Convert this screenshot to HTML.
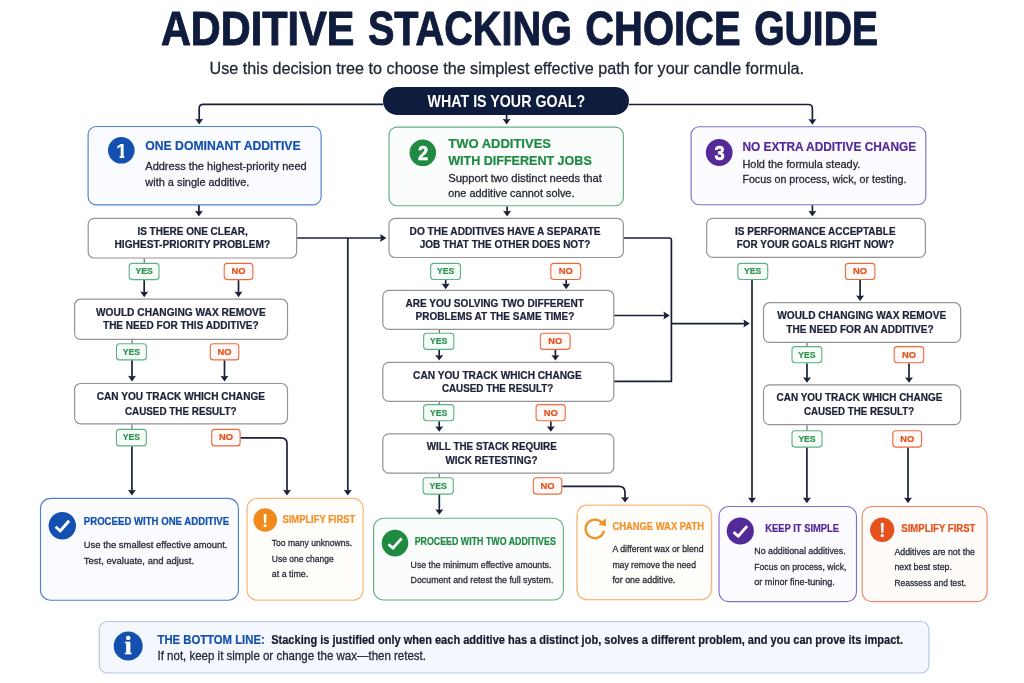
<!DOCTYPE html>
<html lang="en">
<head>
<meta charset="utf-8">
<title>Additive Stacking Choice Guide</title>
<style>
html,body{margin:0;padding:0;background:#fff;}
body{width:1024px;height:683px;overflow:hidden;}
svg{display:block;}
svg text{font-family:"Liberation Sans",Arial,Helvetica,sans-serif;}
svg{will-change:transform;}
</style>
</head>
<body>
<svg width="1024" height="683" viewBox="0 0 1024 683">
<rect width="1024" height="683" fill="#ffffff"/>
<g stroke="#101c3e" stroke-width="1.0" stroke-linejoin="round">
<text x="160.9" y="45.0" font-size="48.8" font-weight="700" fill="#101c3e" textLength="193.6" lengthAdjust="spacingAndGlyphs">ADDITIVE</text>
<text x="367.9" y="45.0" font-size="48.8" font-weight="700" fill="#101c3e" textLength="204.0" lengthAdjust="spacingAndGlyphs">STACKING</text>
<text x="585.2" y="45.0" font-size="48.8" font-weight="700" fill="#101c3e" textLength="155.4" lengthAdjust="spacingAndGlyphs">CHOICE</text>
<text x="754.2" y="45.0" font-size="48.8" font-weight="700" fill="#101c3e" textLength="123.9" lengthAdjust="spacingAndGlyphs">GUIDE</text>
</g>
<text x="209.6" y="74.0" font-size="17" font-weight="400" fill="#1e2433" stroke="#1e2433" stroke-width="0.28" textLength="594.4" lengthAdjust="spacingAndGlyphs">Use this decision tree to choose the simplest effective path for your candle formula.</text>
<path d="M383 104.3H203.2Q199.2 104.3 199.2 108.3V120" fill="none" stroke="#1b2039" stroke-width="1.7" stroke-linejoin="round"/>
<path d="M195.2 118.8L199.2 119.5L203.2 118.8L199.2 124.4Z" fill="#1b2039"/>
<path d="M629 104.5H808.4Q812.4 104.5 812.4 108.5V120" fill="none" stroke="#1b2039" stroke-width="1.7" stroke-linejoin="round"/>
<path d="M808.4 119.1L812.4 119.8L816.4 119.1L812.4 124.7Z" fill="#1b2039"/>
<path d="M506.6 114V120" fill="none" stroke="#1b2039" stroke-width="1.7" stroke-linejoin="round"/>
<path d="M502.6 118.8L506.6 119.5L510.6 118.8L506.6 124.4Z" fill="#1b2039"/>
<rect x="383" y="87" width="246" height="27.9" rx="13.95" fill="#101c3e"/>
<text x="427.6" y="107.2" font-size="16.6" font-weight="700" fill="#ffffff" textLength="157.6" lengthAdjust="spacingAndGlyphs">WHAT IS YOUR GOAL?</text>
<rect x="88.1" y="126.5" width="233.0" height="78.3" rx="8" fill="#f9fbff" stroke="#4f7fce" stroke-width="1.15"/>
<circle cx="121.3" cy="150.3" r="13.3" fill="#1450b0"/>
<clipPath id="c1"><rect x="108" y="138" width="28" height="17.2"/><rect x="119.6" y="155" width="4.6" height="4"/></clipPath>
<text x="116.0" y="157.5" font-size="20.4" font-weight="700" fill="#fff" clip-path="url(#c1)">1</text>
<text x="145.3" y="150.4" font-size="13.7" font-weight="700" fill="#1450b0" stroke="#1450b0" stroke-width="0.22" textLength="155.3" lengthAdjust="spacingAndGlyphs">ONE DOMINANT ADDITIVE</text>
<text x="145.3" y="170.1" font-size="10.4" font-weight="400" fill="#272a35" stroke="#272a35" stroke-width="0.28" textLength="161.4" lengthAdjust="spacingAndGlyphs">Address the highest-priority need</text>
<text x="145.3" y="185.7" font-size="10.4" font-weight="400" fill="#272a35" stroke="#272a35" stroke-width="0.28" textLength="104.0" lengthAdjust="spacingAndGlyphs">with a single additive.</text>
<rect x="389.0" y="127.1" width="234.4" height="78.7" rx="8" fill="#fafdfb" stroke="#62ae82" stroke-width="1.15"/>
<circle cx="422.8" cy="152.8" r="13.3" fill="#1f8a42"/>
<text x="417.9" y="160.0" font-size="20" font-weight="700" fill="#fff" stroke="#fff" stroke-width="0.5" textLength="10.2" lengthAdjust="spacingAndGlyphs">2</text>
<text x="448.2" y="147.9" font-size="13.7" font-weight="700" fill="#1f8a42" stroke="#1f8a42" stroke-width="0.22" textLength="102.8" lengthAdjust="spacingAndGlyphs">TWO ADDITIVES</text>
<text x="448.2" y="164.8" font-size="13.7" font-weight="700" fill="#1f8a42" stroke="#1f8a42" stroke-width="0.22" textLength="143.6" lengthAdjust="spacingAndGlyphs">WITH DIFFERENT JOBS</text>
<text x="448.2" y="181.8" font-size="10.4" font-weight="400" fill="#272a35" stroke="#272a35" stroke-width="0.28" textLength="153.8" lengthAdjust="spacingAndGlyphs">Support two distinct needs that</text>
<text x="448.2" y="197.2" font-size="10.4" font-weight="400" fill="#272a35" stroke="#272a35" stroke-width="0.28" textLength="126.3" lengthAdjust="spacingAndGlyphs">one additive cannot solve.</text>
<rect x="691.1" y="126.7" width="234.7" height="78.1" rx="8" fill="#fcfbff" stroke="#7f6fc8" stroke-width="1.15"/>
<circle cx="719.2" cy="152.5" r="13.4" fill="#542a99"/>
<text x="714.5" y="159.7" font-size="20" font-weight="700" fill="#fff" stroke="#fff" stroke-width="0.5" textLength="10.2" lengthAdjust="spacingAndGlyphs">3</text>
<text x="742.4" y="150.6" font-size="13.7" font-weight="700" fill="#542a99" stroke="#542a99" stroke-width="0.22" textLength="173.7" lengthAdjust="spacingAndGlyphs">NO EXTRA ADDITIVE CHANGE</text>
<text x="742.4" y="167.8" font-size="10.4" font-weight="400" fill="#272a35" stroke="#272a35" stroke-width="0.28" textLength="118.0" lengthAdjust="spacingAndGlyphs">Hold the formula steady.</text>
<text x="742.4" y="182.8" font-size="10.4" font-weight="400" fill="#272a35" stroke="#272a35" stroke-width="0.28" textLength="164.0" lengthAdjust="spacingAndGlyphs">Focus on process, wick, or testing.</text>
<path d="M198.9 205.2V212.4" fill="none" stroke="#1b2039" stroke-width="1.7" stroke-linejoin="round"/>
<path d="M194.9 210.8L198.9 211.5L202.9 210.8L198.9 216.4Z" fill="#1b2039"/>
<path d="M507.1 206.4V212.4" fill="none" stroke="#1b2039" stroke-width="1.7" stroke-linejoin="round"/>
<path d="M503.1 210.8L507.1 211.5L511.1 210.8L507.1 216.4Z" fill="#1b2039"/>
<path d="M812.4 205.2V212.4" fill="none" stroke="#1b2039" stroke-width="1.7" stroke-linejoin="round"/>
<path d="M808.4 210.8L812.4 211.5L816.4 210.8L812.4 216.4Z" fill="#1b2039"/>
<path d="M296.6 238H381" fill="none" stroke="#1b2039" stroke-width="1.7" stroke-linejoin="round"/>
<path d="M380.0 234.0L381.0 238.0L380.0 242.0L386.4 238.0Z" fill="#1b2039"/>
<path d="M347.8 238V491" fill="none" stroke="#1b2039" stroke-width="1.7" stroke-linejoin="round"/>
<path d="M343.8 489.8L347.8 490.5L351.8 489.8L347.8 495.4Z" fill="#1b2039"/>
<path d="M623.4 238H669.4Q671.4 238 671.4 240V381.4H613.8" fill="none" stroke="#1b2039" stroke-width="1.7" stroke-linejoin="round"/>
<path d="M613.8 315.5H665" fill="none" stroke="#1b2039" stroke-width="1.7" stroke-linejoin="round"/>
<path d="M663.4 311.5L664.4 315.5L663.4 319.5L669.8 315.5Z" fill="#1b2039"/>
<path d="M671.4 323.6H745" fill="none" stroke="#1b2039" stroke-width="1.7" stroke-linejoin="round"/>
<path d="M743.4 319.6L744.4 323.6L743.4 327.6L749.8 323.6Z" fill="#1b2039"/>
<rect x="88.2" y="218.4" width="208.4" height="39.6" rx="6" fill="#ffffff" stroke="#939398" stroke-width="1.2"/>
<text x="137.4" y="234.6" font-size="10.0" font-weight="700" fill="#1d2238" stroke="#1d2238" stroke-width="0.22" textLength="110.4" lengthAdjust="spacingAndGlyphs">IS THERE ONE CLEAR,</text>
<text x="114.5" y="248.4" font-size="10.0" font-weight="700" fill="#1d2238" stroke="#1d2238" stroke-width="0.22" textLength="155.6" lengthAdjust="spacingAndGlyphs">HIGHEST-PRIORITY PROBLEM?</text>
<path d="M144.3 258.5V263.5" fill="none" stroke="#6f707a" stroke-width="1.2" stroke-linejoin="round"/>
<rect x="129.2" y="263.4" width="29.8" height="16.2" rx="3" fill="#f6fcf8" stroke="#5db182" stroke-width="1.1"/>
<text x="135.5" y="274.2" font-size="9.6" font-weight="700" fill="#2e9150" stroke="#2e9150" stroke-width="0.22" textLength="17.2" lengthAdjust="spacingAndGlyphs">YES</text>
<path d="M144.2 280.2V293.2" fill="none" stroke="#1b2039" stroke-width="1.7" stroke-linejoin="round"/>
<path d="M140.2 291.6L144.2 292.3L148.2 291.6L144.2 297.2Z" fill="#1b2039"/>
<rect x="224.2" y="263.4" width="28.7" height="16.2" rx="3" fill="#fffaf8" stroke="#ea6b3c" stroke-width="1.1"/>
<text x="231.6" y="274.2" font-size="9.6" font-weight="700" fill="#e5521d" stroke="#e5521d" stroke-width="0.22" textLength="14.0" lengthAdjust="spacingAndGlyphs">NO</text>
<path d="M238.5 280.2V293.2" fill="none" stroke="#1b2039" stroke-width="1.7" stroke-linejoin="round"/>
<path d="M234.5 291.6L238.5 292.3L242.5 291.6L238.5 297.2Z" fill="#1b2039"/>
<rect x="74.6" y="299.2" width="212.9" height="40.2" rx="6" fill="#ffffff" stroke="#939398" stroke-width="1.2"/>
<text x="96.0" y="315.5" font-size="10.0" font-weight="700" fill="#1d2238" stroke="#1d2238" stroke-width="0.22" textLength="169.7" lengthAdjust="spacingAndGlyphs">WOULD CHANGING WAX REMOVE</text>
<text x="103.0" y="329.2" font-size="10.0" font-weight="700" fill="#1d2238" stroke="#1d2238" stroke-width="0.22" textLength="155.7" lengthAdjust="spacingAndGlyphs">THE NEED FOR THIS ADDITIVE?</text>
<path d="M132.1 340V344" fill="none" stroke="#6f707a" stroke-width="1.2" stroke-linejoin="round"/>
<rect x="116.5" y="343.8" width="29.9" height="16.1" rx="3" fill="#f6fcf8" stroke="#5db182" stroke-width="1.1"/>
<text x="122.8" y="354.6" font-size="9.6" font-weight="700" fill="#2e9150" stroke="#2e9150" stroke-width="0.22" textLength="17.2" lengthAdjust="spacingAndGlyphs">YES</text>
<path d="M132.0 360.5V377.4" fill="none" stroke="#1b2039" stroke-width="1.7" stroke-linejoin="round"/>
<path d="M128.0 375.8L132.0 376.5L136.0 375.8L132.0 381.4Z" fill="#1b2039"/>
<rect x="210.3" y="343.8" width="28.5" height="16.1" rx="3" fill="#fffaf8" stroke="#ea6b3c" stroke-width="1.1"/>
<text x="217.6" y="354.6" font-size="9.6" font-weight="700" fill="#e5521d" stroke="#e5521d" stroke-width="0.22" textLength="14.0" lengthAdjust="spacingAndGlyphs">NO</text>
<path d="M224.5 360.5V377.4" fill="none" stroke="#1b2039" stroke-width="1.7" stroke-linejoin="round"/>
<path d="M220.5 375.8L224.5 376.5L228.5 375.8L224.5 381.4Z" fill="#1b2039"/>
<rect x="74.6" y="383.5" width="212.9" height="40.3" rx="6" fill="#ffffff" stroke="#939398" stroke-width="1.2"/>
<text x="96.7" y="400.4" font-size="10.0" font-weight="700" fill="#1d2238" stroke="#1d2238" stroke-width="0.22" textLength="168.4" lengthAdjust="spacingAndGlyphs">CAN YOU TRACK WHICH CHANGE</text>
<text x="124.9" y="414.6" font-size="10.0" font-weight="700" fill="#1d2238" stroke="#1d2238" stroke-width="0.22" textLength="111.7" lengthAdjust="spacingAndGlyphs">CAUSED THE RESULT?</text>
<path d="M131.9 424.4V429.4" fill="none" stroke="#6f707a" stroke-width="1.2" stroke-linejoin="round"/>
<rect x="116.4" y="429.4" width="29.9" height="16.5" rx="3" fill="#f6fcf8" stroke="#5db182" stroke-width="1.1"/>
<text x="122.8" y="440.4" font-size="9.6" font-weight="700" fill="#2e9150" stroke="#2e9150" stroke-width="0.22" textLength="17.2" lengthAdjust="spacingAndGlyphs">YES</text>
<path d="M131.9 446.5V491.4" fill="none" stroke="#1b2039" stroke-width="1.7" stroke-linejoin="round"/>
<path d="M127.9 489.8L131.9 490.5L135.9 489.8L131.9 495.4Z" fill="#1b2039"/>
<rect x="211.7" y="429.4" width="28.4" height="16.5" rx="3" fill="#fffaf8" stroke="#ea6b3c" stroke-width="1.1"/>
<text x="218.9" y="440.4" font-size="9.6" font-weight="700" fill="#e5521d" stroke="#e5521d" stroke-width="0.22" textLength="14.0" lengthAdjust="spacingAndGlyphs">NO</text>
<path d="M240.7 437.8H281Q287 437.8 287 443.8V491" fill="none" stroke="#1b2039" stroke-width="1.7" stroke-linejoin="round"/>
<path d="M283.0 489.8L287.0 490.5L291.0 489.8L287.0 495.4Z" fill="#1b2039"/>
<rect x="40.5" y="498.3" width="197.9" height="101.9" rx="10" fill="#f9fbff" stroke="#4f7fce" stroke-width="1.15"/>
<circle cx="62.3" cy="525.7" r="13.7" fill="#1450b0"/>
<path d="M55.6 526.8L60.2 531.0L69.1 520.8" fill="none" stroke="#fff" stroke-width="2.9" stroke-linecap="butt" stroke-linejoin="round"/>
<text x="83.8" y="525.1" font-size="10.6" font-weight="700" fill="#1450b0" stroke="#1450b0" stroke-width="0.22" textLength="145.4" lengthAdjust="spacingAndGlyphs">PROCEED WITH ONE ADDITIVE</text>
<text x="83.8" y="548.0" font-size="9.9" font-weight="400" fill="#272a35" stroke="#272a35" stroke-width="0.28" textLength="143.7" lengthAdjust="spacingAndGlyphs">Use the smallest effective amount.</text>
<text x="83.8" y="563.8" font-size="9.9" font-weight="400" fill="#272a35" stroke="#272a35" stroke-width="0.28" textLength="110.3" lengthAdjust="spacingAndGlyphs">Test, evaluate, and adjust.</text>
<rect x="247.1" y="498.3" width="116.0" height="101.9" rx="10" fill="#fffdfa" stroke="#f6b97e" stroke-width="1.25"/>
<circle cx="265.2" cy="520.0" r="11.8" fill="#f08a1c"/>
<text x="265.2" y="526.8" font-size="18.6" font-weight="700" fill="#fff" text-anchor="middle">!</text>
<text x="282.5" y="522.6" font-size="10.6" font-weight="700" fill="#f1922a" stroke="#f1922a" stroke-width="0.22" textLength="72.7" lengthAdjust="spacingAndGlyphs">SIMPLIFY FIRST</text>
<text x="271.8" y="546.4" font-size="9.9" font-weight="400" fill="#272a35" stroke="#272a35" stroke-width="0.28" textLength="80.4" lengthAdjust="spacingAndGlyphs">Too many unknowns.</text>
<text x="271.8" y="561.6" font-size="9.9" font-weight="400" fill="#272a35" stroke="#272a35" stroke-width="0.28" textLength="61.8" lengthAdjust="spacingAndGlyphs">Use one change</text>
<text x="271.8" y="577.2" font-size="9.9" font-weight="400" fill="#272a35" stroke="#272a35" stroke-width="0.28" textLength="36.4" lengthAdjust="spacingAndGlyphs">at a time.</text>
<rect x="389.0" y="218.4" width="234.4" height="39.1" rx="6" fill="#ffffff" stroke="#939398" stroke-width="1.2"/>
<text x="409.6" y="234.6" font-size="10.0" font-weight="700" fill="#1d2238" stroke="#1d2238" stroke-width="0.22" textLength="191.0" lengthAdjust="spacingAndGlyphs">DO THE ADDITIVES HAVE A SEPARATE</text>
<text x="419.8" y="248.4" font-size="10.0" font-weight="700" fill="#1d2238" stroke="#1d2238" stroke-width="0.22" textLength="170.5" lengthAdjust="spacingAndGlyphs">JOB THAT THE OTHER DOES NOT?</text>
<rect x="430.7" y="263.4" width="29.8" height="16.1" rx="3" fill="#f6fcf8" stroke="#5db182" stroke-width="1.1"/>
<text x="437.0" y="274.2" font-size="9.6" font-weight="700" fill="#2e9150" stroke="#2e9150" stroke-width="0.22" textLength="17.2" lengthAdjust="spacingAndGlyphs">YES</text>
<path d="M445.7 280.1V285.2" fill="none" stroke="#1b2039" stroke-width="1.7" stroke-linejoin="round"/>
<path d="M441.7 283.6L445.7 284.3L449.7 283.6L445.7 289.2Z" fill="#1b2039"/>
<rect x="550.8" y="263.4" width="29.9" height="16.1" rx="3" fill="#fffaf8" stroke="#ea6b3c" stroke-width="1.1"/>
<text x="558.8" y="274.2" font-size="9.6" font-weight="700" fill="#e5521d" stroke="#e5521d" stroke-width="0.22" textLength="14.0" lengthAdjust="spacingAndGlyphs">NO</text>
<path d="M566.2 280.1V285.2" fill="none" stroke="#1b2039" stroke-width="1.7" stroke-linejoin="round"/>
<path d="M562.2 283.6L566.2 284.3L570.2 283.6L566.2 289.2Z" fill="#1b2039"/>
<rect x="382.8" y="290.4" width="231.0" height="39.0" rx="6" fill="#ffffff" stroke="#939398" stroke-width="1.2"/>
<text x="405.4" y="306.9" font-size="10.0" font-weight="700" fill="#1d2238" stroke="#1d2238" stroke-width="0.22" textLength="178.5" lengthAdjust="spacingAndGlyphs">ARE YOU SOLVING TWO DIFFERENT</text>
<text x="415.5" y="320.4" font-size="10.0" font-weight="700" fill="#1d2238" stroke="#1d2238" stroke-width="0.22" textLength="158.9" lengthAdjust="spacingAndGlyphs">PROBLEMS AT THE SAME TIME?</text>
<path d="M439.4 330V333.5" fill="none" stroke="#6f707a" stroke-width="1.2" stroke-linejoin="round"/>
<rect x="423.6" y="333.3" width="30.2" height="16.1" rx="3" fill="#f6fcf8" stroke="#5db182" stroke-width="1.1"/>
<text x="430.1" y="344.1" font-size="9.6" font-weight="700" fill="#2e9150" stroke="#2e9150" stroke-width="0.22" textLength="17.2" lengthAdjust="spacingAndGlyphs">YES</text>
<path d="M439.2 350.0V356.6" fill="none" stroke="#1b2039" stroke-width="1.7" stroke-linejoin="round"/>
<path d="M435.2 355.0L439.2 355.7L443.2 355.0L439.2 360.6Z" fill="#1b2039"/>
<rect x="540.3" y="333.3" width="29.8" height="16.1" rx="3" fill="#fffaf8" stroke="#ea6b3c" stroke-width="1.1"/>
<text x="548.2" y="344.1" font-size="9.6" font-weight="700" fill="#e5521d" stroke="#e5521d" stroke-width="0.22" textLength="14.0" lengthAdjust="spacingAndGlyphs">NO</text>
<path d="M555.4 350.0V356.6" fill="none" stroke="#1b2039" stroke-width="1.7" stroke-linejoin="round"/>
<path d="M551.4 355.0L555.4 355.7L559.4 355.0L555.4 360.6Z" fill="#1b2039"/>
<rect x="382.8" y="362.4" width="231.0" height="39.0" rx="6" fill="#ffffff" stroke="#939398" stroke-width="1.2"/>
<text x="413.1" y="378.6" font-size="10.0" font-weight="700" fill="#1d2238" stroke="#1d2238" stroke-width="0.22" textLength="168.6" lengthAdjust="spacingAndGlyphs">CAN YOU TRACK WHICH CHANGE</text>
<text x="441.9" y="392.1" font-size="10.0" font-weight="700" fill="#1d2238" stroke="#1d2238" stroke-width="0.22" textLength="111.4" lengthAdjust="spacingAndGlyphs">CAUSED THE RESULT?</text>
<path d="M439.4 402V405" fill="none" stroke="#6f707a" stroke-width="1.2" stroke-linejoin="round"/>
<rect x="423.6" y="404.6" width="30.2" height="16.2" rx="3" fill="#f6fcf8" stroke="#5db182" stroke-width="1.1"/>
<text x="430.1" y="415.5" font-size="9.6" font-weight="700" fill="#2e9150" stroke="#2e9150" stroke-width="0.22" textLength="17.2" lengthAdjust="spacingAndGlyphs">YES</text>
<path d="M439.2 421.4V427.8" fill="none" stroke="#1b2039" stroke-width="1.7" stroke-linejoin="round"/>
<path d="M435.2 426.2L439.2 426.9L443.2 426.2L439.2 431.8Z" fill="#1b2039"/>
<rect x="536.1" y="404.6" width="29.1" height="16.2" rx="3" fill="#fffaf8" stroke="#ea6b3c" stroke-width="1.1"/>
<text x="543.7" y="415.5" font-size="9.6" font-weight="700" fill="#e5521d" stroke="#e5521d" stroke-width="0.22" textLength="14.0" lengthAdjust="spacingAndGlyphs">NO</text>
<path d="M550.8 421.4V427.8" fill="none" stroke="#1b2039" stroke-width="1.7" stroke-linejoin="round"/>
<path d="M546.8 426.2L550.8 426.9L554.8 426.2L550.8 431.8Z" fill="#1b2039"/>
<rect x="382.8" y="433.8" width="231.0" height="39.3" rx="6" fill="#ffffff" stroke="#939398" stroke-width="1.2"/>
<text x="426.8" y="449.9" font-size="10.0" font-weight="700" fill="#1d2238" stroke="#1d2238" stroke-width="0.22" textLength="130.0" lengthAdjust="spacingAndGlyphs">WILL THE STACK REQUIRE</text>
<text x="445.4" y="464.0" font-size="10.0" font-weight="700" fill="#1d2238" stroke="#1d2238" stroke-width="0.22" textLength="92.1" lengthAdjust="spacingAndGlyphs">WICK RETESTING?</text>
<path d="M439.3 473.7V478" fill="none" stroke="#6f707a" stroke-width="1.2" stroke-linejoin="round"/>
<rect x="423.1" y="477.7" width="30.2" height="16.4" rx="3" fill="#f6fcf8" stroke="#5db182" stroke-width="1.1"/>
<text x="429.6" y="488.6" font-size="9.6" font-weight="700" fill="#2e9150" stroke="#2e9150" stroke-width="0.22" textLength="17.2" lengthAdjust="spacingAndGlyphs">YES</text>
<path d="M439.3 494.7V510.8" fill="none" stroke="#1b2039" stroke-width="1.7" stroke-linejoin="round"/>
<path d="M435.3 509.2L439.3 509.9L443.3 509.2L439.3 514.8Z" fill="#1b2039"/>
<rect x="533.3" y="477.7" width="28.5" height="16.4" rx="3" fill="#fffaf8" stroke="#ea6b3c" stroke-width="1.1"/>
<text x="540.5" y="488.6" font-size="9.6" font-weight="700" fill="#e5521d" stroke="#e5521d" stroke-width="0.22" textLength="14.0" lengthAdjust="spacingAndGlyphs">NO</text>
<path d="M562.4 486.3H619Q625 486.3 625 492.3V498.5" fill="none" stroke="#1b2039" stroke-width="1.7" stroke-linejoin="round"/>
<path d="M621.0 497.0L625.0 497.7L629.0 497.0L625.0 502.6Z" fill="#1b2039"/>
<rect x="373.6" y="518.2" width="189.8" height="81.8" rx="10" fill="#fafdfb" stroke="#62ae82" stroke-width="1.15"/>
<circle cx="395.0" cy="543.1" r="13.3" fill="#1f8a42"/>
<path d="M388.5 544.2L393.0 548.2L401.6 538.3" fill="none" stroke="#fff" stroke-width="2.8" stroke-linecap="butt" stroke-linejoin="round"/>
<text x="414.7" y="544.9" font-size="10.6" font-weight="700" fill="#1f8a42" stroke="#1f8a42" stroke-width="0.22" textLength="141.1" lengthAdjust="spacingAndGlyphs">PROCEED WITH TWO ADDITIVES</text>
<text x="410.6" y="567.7" font-size="9.9" font-weight="400" fill="#272a35" stroke="#272a35" stroke-width="0.28" textLength="140.8" lengthAdjust="spacingAndGlyphs">Use the minimum effective amounts.</text>
<text x="410.6" y="583.4" font-size="9.9" font-weight="400" fill="#272a35" stroke="#272a35" stroke-width="0.28" textLength="142.8" lengthAdjust="spacingAndGlyphs">Document and retest the full system.</text>
<rect x="577.0" y="505.1" width="134.5" height="94.5" rx="10" fill="#fffdfa" stroke="#f6b97e" stroke-width="1.4"/>
<path d="M602.0 522.8A9.3 9.3 0 1 0 603.8 531.6" fill="none" stroke="#f1922a" stroke-width="2.3" stroke-linecap="round"/>
<path d="M599.4 524.6L605.6 525.4L605.2 519.2Z" fill="#f1922a" stroke="#f1922a" stroke-width="1" stroke-linejoin="round"/>
<text x="612.4" y="529.8" font-size="10.6" font-weight="700" fill="#f1922a" stroke="#f1922a" stroke-width="0.22" textLength="91.6" lengthAdjust="spacingAndGlyphs">CHANGE WAX PATH</text>
<text x="612.4" y="552.1" font-size="9.9" font-weight="400" fill="#272a35" stroke="#272a35" stroke-width="0.28" textLength="91.2" lengthAdjust="spacingAndGlyphs">A different wax or blend</text>
<text x="612.4" y="567.7" font-size="9.9" font-weight="400" fill="#272a35" stroke="#272a35" stroke-width="0.28" textLength="83.6" lengthAdjust="spacingAndGlyphs">may remove the need</text>
<text x="612.4" y="583.3" font-size="9.9" font-weight="400" fill="#272a35" stroke="#272a35" stroke-width="0.28" textLength="62.9" lengthAdjust="spacingAndGlyphs">for one additive.</text>
<rect x="706.7" y="218.4" width="218.7" height="39.0" rx="6" fill="#ffffff" stroke="#939398" stroke-width="1.2"/>
<text x="735.0" y="234.6" font-size="10.0" font-weight="700" fill="#1d2238" stroke="#1d2238" stroke-width="0.22" textLength="160.6" lengthAdjust="spacingAndGlyphs">IS PERFORMANCE ACCEPTABLE</text>
<text x="736.8" y="248.4" font-size="10.0" font-weight="700" fill="#1d2238" stroke="#1d2238" stroke-width="0.22" textLength="157.3" lengthAdjust="spacingAndGlyphs">FOR YOUR GOALS RIGHT NOW?</text>
<rect x="737.8" y="263.4" width="29.9" height="16.1" rx="3" fill="#f6fcf8" stroke="#5db182" stroke-width="1.1"/>
<text x="744.1" y="274.2" font-size="9.6" font-weight="700" fill="#2e9150" stroke="#2e9150" stroke-width="0.22" textLength="17.2" lengthAdjust="spacingAndGlyphs">YES</text>
<path d="M752 280.1V499" fill="none" stroke="#1b2039" stroke-width="1.7" stroke-linejoin="round"/>
<path d="M748.0 497.6L752.0 498.3L756.0 497.6L752.0 503.2Z" fill="#1b2039"/>
<rect x="845.4" y="263.4" width="29.5" height="16.1" rx="3" fill="#fffaf8" stroke="#ea6b3c" stroke-width="1.1"/>
<text x="853.1" y="274.2" font-size="9.6" font-weight="700" fill="#e5521d" stroke="#e5521d" stroke-width="0.22" textLength="14.0" lengthAdjust="spacingAndGlyphs">NO</text>
<path d="M860.1 280.1V297.0" fill="none" stroke="#1b2039" stroke-width="1.7" stroke-linejoin="round"/>
<path d="M856.1 295.4L860.1 296.1L864.1 295.4L860.1 301.0Z" fill="#1b2039"/>
<rect x="763.5" y="302.7" width="197.1" height="39.7" rx="6" fill="#ffffff" stroke="#939398" stroke-width="1.2"/>
<text x="777.2" y="319.2" font-size="10.0" font-weight="700" fill="#1d2238" stroke="#1d2238" stroke-width="0.22" textLength="169.0" lengthAdjust="spacingAndGlyphs">WOULD CHANGING WAX REMOVE</text>
<text x="786.3" y="332.9" font-size="10.0" font-weight="700" fill="#1d2238" stroke="#1d2238" stroke-width="0.22" textLength="147.3" lengthAdjust="spacingAndGlyphs">THE NEED FOR AN ADDITIVE?</text>
<path d="M807 343V347" fill="none" stroke="#6f707a" stroke-width="1.2" stroke-linejoin="round"/>
<rect x="792.0" y="346.6" width="29.8" height="16.2" rx="3" fill="#f6fcf8" stroke="#5db182" stroke-width="1.1"/>
<text x="798.3" y="357.5" font-size="9.6" font-weight="700" fill="#2e9150" stroke="#2e9150" stroke-width="0.22" textLength="17.2" lengthAdjust="spacingAndGlyphs">YES</text>
<path d="M807.0 363.4V378.8" fill="none" stroke="#1b2039" stroke-width="1.7" stroke-linejoin="round"/>
<path d="M803.0 377.2L807.0 377.9L811.0 377.2L807.0 382.8Z" fill="#1b2039"/>
<rect x="894.2" y="346.6" width="29.5" height="16.2" rx="3" fill="#fffaf8" stroke="#ea6b3c" stroke-width="1.1"/>
<text x="902.0" y="357.5" font-size="9.6" font-weight="700" fill="#e5521d" stroke="#e5521d" stroke-width="0.22" textLength="14.0" lengthAdjust="spacingAndGlyphs">NO</text>
<path d="M909.0 363.4V378.8" fill="none" stroke="#1b2039" stroke-width="1.7" stroke-linejoin="round"/>
<path d="M905.0 377.2L909.0 377.9L913.0 377.2L909.0 382.8Z" fill="#1b2039"/>
<rect x="763.5" y="384.9" width="197.1" height="39.7" rx="6" fill="#ffffff" stroke="#939398" stroke-width="1.2"/>
<text x="776.5" y="401.1" font-size="10.0" font-weight="700" fill="#1d2238" stroke="#1d2238" stroke-width="0.22" textLength="165.8" lengthAdjust="spacingAndGlyphs">CAN YOU TRACK WHICH CHANGE</text>
<text x="803.9" y="415.1" font-size="10.0" font-weight="700" fill="#1d2238" stroke="#1d2238" stroke-width="0.22" textLength="110.3" lengthAdjust="spacingAndGlyphs">CAUSED THE RESULT?</text>
<path d="M807 425.2V431" fill="none" stroke="#6f707a" stroke-width="1.2" stroke-linejoin="round"/>
<rect x="792.0" y="430.7" width="30.0" height="16.4" rx="3" fill="#f6fcf8" stroke="#5db182" stroke-width="1.1"/>
<text x="798.4" y="441.6" font-size="9.6" font-weight="700" fill="#2e9150" stroke="#2e9150" stroke-width="0.22" textLength="17.2" lengthAdjust="spacingAndGlyphs">YES</text>
<path d="M806.9 447.7V499.2" fill="none" stroke="#1b2039" stroke-width="1.7" stroke-linejoin="round"/>
<path d="M802.9 497.6L806.9 498.3L810.9 497.6L806.9 503.2Z" fill="#1b2039"/>
<rect x="892.8" y="430.7" width="28.8" height="16.4" rx="3" fill="#fffaf8" stroke="#ea6b3c" stroke-width="1.1"/>
<text x="900.2" y="441.6" font-size="9.6" font-weight="700" fill="#e5521d" stroke="#e5521d" stroke-width="0.22" textLength="14.0" lengthAdjust="spacingAndGlyphs">NO</text>
<path d="M908.0 447.7V499.2" fill="none" stroke="#1b2039" stroke-width="1.7" stroke-linejoin="round"/>
<path d="M904.0 497.6L908.0 498.3L912.0 497.6L908.0 503.2Z" fill="#1b2039"/>
<rect x="719.0" y="506.5" width="137.5" height="95.1" rx="9.5" fill="#fcfbff" stroke="#7f6fc8" stroke-width="1.15"/>
<circle cx="740.3" cy="531.0" r="13.6" fill="#542a99"/>
<path d="M733.6 532.1L738.2 536.3L747.1 526.1" fill="none" stroke="#fff" stroke-width="2.9" stroke-linecap="butt" stroke-linejoin="round"/>
<text x="765.3" y="532.2" font-size="10.6" font-weight="700" fill="#542a99" stroke="#542a99" stroke-width="0.22" textLength="73.7" lengthAdjust="spacingAndGlyphs">KEEP IT SIMPLE</text>
<text x="754.3" y="554.0" font-size="9.9" font-weight="400" fill="#272a35" stroke="#272a35" stroke-width="0.28" textLength="91.3" lengthAdjust="spacingAndGlyphs">No additional additives.</text>
<text x="754.3" y="569.7" font-size="9.9" font-weight="400" fill="#272a35" stroke="#272a35" stroke-width="0.28" textLength="92.1" lengthAdjust="spacingAndGlyphs">Focus on process, wick,</text>
<text x="754.3" y="585.3" font-size="9.9" font-weight="400" fill="#272a35" stroke="#272a35" stroke-width="0.28" textLength="80.6" lengthAdjust="spacingAndGlyphs">or minor fine-tuning.</text>
<rect x="862.1" y="506.5" width="125.0" height="95.1" rx="9.5" fill="#fffbf9" stroke="#ec8660" stroke-width="1.15"/>
<circle cx="882.2" cy="529.8" r="12.2" fill="#e5521d"/>
<text x="882.2" y="537.4" font-size="19.6" font-weight="700" fill="#fff" text-anchor="middle">!</text>
<text x="901.3" y="532.4" font-size="10.6" font-weight="700" fill="#e5521d" stroke="#e5521d" stroke-width="0.22" textLength="74.1" lengthAdjust="spacingAndGlyphs">SIMPLIFY FIRST</text>
<text x="894.4" y="554.6" font-size="9.9" font-weight="400" fill="#272a35" stroke="#272a35" stroke-width="0.28" textLength="80.6" lengthAdjust="spacingAndGlyphs">Additives are not the</text>
<text x="894.4" y="570.1" font-size="9.9" font-weight="400" fill="#272a35" stroke="#272a35" stroke-width="0.28" textLength="57.6" lengthAdjust="spacingAndGlyphs">next best step.</text>
<text x="894.4" y="585.6" font-size="9.9" font-weight="400" fill="#272a35" stroke="#272a35" stroke-width="0.28" textLength="71.8" lengthAdjust="spacingAndGlyphs">Reassess and test.</text>
<rect x="99.3" y="621.5" width="829.6" height="51.5" rx="8" fill="#f4f7fd" stroke="#b7c5e2" stroke-width="1.2"/>
<circle cx="128.2" cy="646.0" r="14.5" fill="#1450b0"/>
<text x="128.2" y="654.0" font-size="26" font-weight="700" fill="#fff" stroke="#fff" stroke-width="0.5" text-anchor="middle" style="font-family:'Liberation Serif','DejaVu Serif',serif">i</text>
<text x="157.5" y="643.8" font-size="13.4" font-weight="700" fill="#1450b0" stroke="#1450b0" stroke-width="0.22" textLength="107.2" lengthAdjust="spacingAndGlyphs">THE BOTTOM LINE:</text>
<text x="271.2" y="643.8" font-size="13.2" font-weight="700" fill="#151b2e" stroke="#151b2e" stroke-width="0.22" textLength="631.9" lengthAdjust="spacingAndGlyphs">Stacking is justified only when each additive has a distinct job, solves a different problem, and you can prove its impact.</text>
<text x="157.5" y="660.3" font-size="13.0" font-weight="400" fill="#23283a" stroke="#23283a" stroke-width="0.28" textLength="268.5" lengthAdjust="spacingAndGlyphs">If not, keep it simple or change the wax—then retest.</text>
</svg>
</body>
</html>
